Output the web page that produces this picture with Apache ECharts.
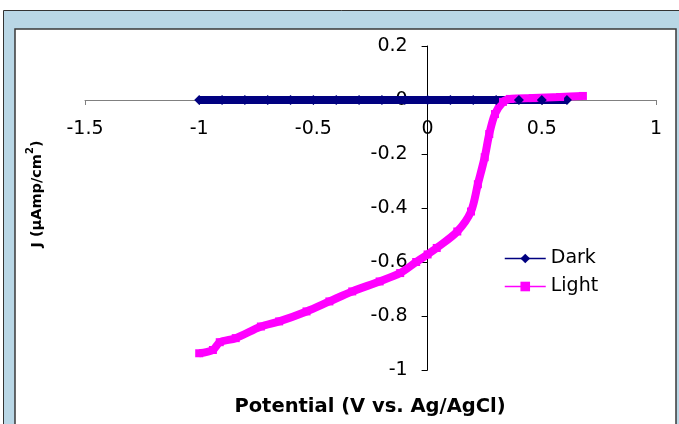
<!DOCTYPE html>
<html>
<head>
<meta charset="utf-8">
<script src="https://cdn.jsdelivr.net/npm/echarts@6/dist/echarts.min.js"></script>
<style>
html,body{margin:0;padding:0;background:#fff;}
#chart{width:679px;height:424px;}
</style>
</head>
<body>
<div id="chart"></div>
<script>
// Data
var xTicks = [-1.5, -1, -0.5, 0, 0.5, 1];
var yTicks = [-1, -0.8, -0.6, -0.4, -0.2, 0, 0.2];
var darkPotential = [-1.0, -0.9, -0.8, -0.7, -0.6, -0.5, -0.4, -0.3, -0.2, -0.1, 0.0, 0.1, 0.2, 0.3, 0.4, 0.5, 0.61];
var darkJ =         [0.0, 0.0, 0.0, 0.0, 0.0, 0.0, 0.0, 0.0, 0.0, 0.0, 0.0, 0.0, 0.0, 0.0, 0.0, 0.0, 0.0];
var lightPotential = [-1.00, -0.94, -0.91, -0.84, -0.73, -0.65, -0.53, -0.43, -0.33, -0.21, -0.12, -0.05, 0.00, 0.04, 0.13, 0.19, 0.22, 0.25, 0.27, 0.295, 0.33, 0.36, 0.46, 0.58, 0.68];
var lightJ =         [-0.938, -0.926, -0.897, -0.882, -0.839, -0.820, -0.783, -0.746, -0.709, -0.672, -0.641, -0.600, -0.572, -0.548, -0.487, -0.413, -0.312, -0.212, -0.126, -0.052, -0.007, 0.004, 0.007, 0.011, 0.015];
var seriesNames = ['Dark', 'Light'];
var xTitle = 'Potential (V vs. Ag/AgCl)';

function zip(a, b) { return a.map(function (v, i) { return [v, b[i]]; }); }

var FONT = 'DejaVu Sans';
var W = 679, H = 424;
var G = { left: 85, right: 23, top: 46, bottom: 54 };
var xMin = xTicks[0], xMax = xTicks[xTicks.length - 1];
var yMin = yTicks[0], yMax = yTicks[yTicks.length - 1];
var gw = W - G.left - G.right, gh = H - G.top - G.bottom;
// shift the axes so they cross at the origin, as in the reference
var yAxisOffset = -(0 - xMin) / (xMax - xMin) * gw;
var xAxisOffset = -(0 - yMin) / (yMax - yMin) * gh;

var chart = echarts.init(document.getElementById('chart'), null, { renderer: 'canvas' });
chart.setOption({
  animation: false,
  backgroundColor: '#ffffff',
  graphic: [
    { type: 'rect', z: -10, shape: { x: 3.5, y: 10.5, width: 690, height: 430 },
      style: { fill: '#b9d7e6', stroke: '#333333', lineWidth: 1 } },
    { type: 'rect', z: -9, shape: { x: 15, y: 29, width: 661, height: 420 },
      style: { fill: '#ffffff', stroke: '#3a3a3a', lineWidth: 1.5 } },
    { type: 'text', z: 10, x: 370, y: 407,
      style: { text: xTitle, font: 'bold 19.5px "' + FONT + '"', fill: '#000', align: 'center', verticalAlign: 'middle' } },
    { type: 'text', z: 10, x: 35, y: 194, rotation: Math.PI / 2,
      style: {
        text: '{a|J (μAmp/cm}{s|2}{a|)}', align: 'center', verticalAlign: 'middle',
        rich: {
          a: { fontFamily: FONT, fontWeight: 'bold', fontSize: 14.5, fill: '#000', lineHeight: 20, verticalAlign: 'bottom' },
          s: { fontFamily: FONT, fontWeight: 'bold', fontSize: 10, fill: '#000', lineHeight: 20, verticalAlign: 'top' }
        }
      } }
  ],
  grid: { left: G.left, right: G.right, top: G.top, bottom: G.bottom, containLabel: false },
  legend: {
    orient: 'vertical', left: 499, top: 244, itemWidth: 41, itemHeight: 12, itemGap: 9,
    textStyle: { fontFamily: FONT, fontSize: 19, color: '#000' },
    lineStyle: { width: 1.5 },
    data: seriesNames
  },
  xAxis: {
    type: 'value', min: xMin, max: xMax, interval: 0.5, position: 'bottom', offset: xAxisOffset,
    axisLine: { onZero: false, lineStyle: { color: '#808080', width: 1 } },
    axisTick: { show: true, inside: false, length: 5, lineStyle: { color: '#808080' } },
    axisLabel: { margin: 20, fontFamily: FONT, fontSize: 19, color: '#000' },
    splitLine: { show: false }
  },
  yAxis: {
    type: 'value', min: yMin, max: yMax, interval: 0.2, position: 'left', offset: yAxisOffset, z: 3,
    axisLine: { show: true, onZero: false, lineStyle: { color: '#000', width: 1 } },
    axisTick: { show: true, inside: false, length: 6, lineStyle: { color: '#000' } },
    axisLabel: { margin: 20, fontFamily: FONT, fontSize: 19, color: '#000',
      formatter: function (v) { return String(Math.round(v * 10) / 10); } },
    splitLine: { show: false }
  },
  series: [
    { name: seriesNames[0], type: 'line', data: zip(darkPotential, darkJ),
      symbol: 'diamond', symbolSize: 10, showSymbol: true,
      lineStyle: { color: '#000080', width: 8 }, itemStyle: { color: '#000080' } },
    { name: seriesNames[1], type: 'line', data: zip(lightPotential, lightJ),
      symbol: 'rect', symbolSize: 8, showSymbol: true, smooth: 0.3,
      lineStyle: { color: '#ff00ff', width: 8 }, itemStyle: { color: '#ff00ff' } }
  ]
});
</script>
</body>
</html>
